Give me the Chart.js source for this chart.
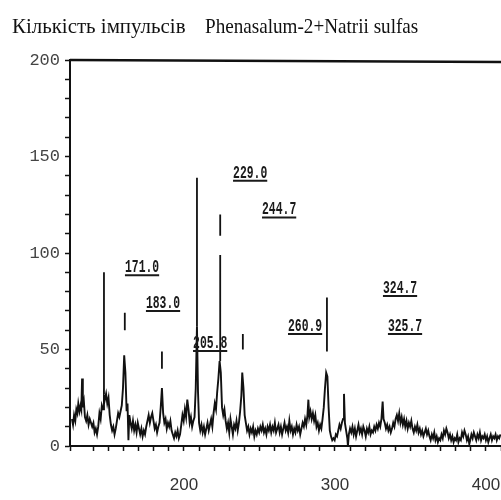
<!DOCTYPE html>
<html>
<head>
<meta charset="utf-8">
<script src="https://cdn.jsdelivr.net/npm/chart.js@4"></script>
<style>
  html, body { margin: 0; padding: 0; background: #fff; }
  #wrap { width: 501px; height: 500px; }
</style>
</head>
<body>
<div id="wrap"><canvas id="xrd"></canvas></div>
<script>
// diffractogram trace
const angle = [
  125.8, 126.5, 127.2, 128, 128.7, 129.4, 130, 130.8, 131.5, 132, 132.5, 133, 133.7, 134.4, 135.2, 136, 136.8, 137.6, 138.4, 139.2,
  140, 140.8, 141.6, 142.4, 143.2, 144, 144.8, 145.6, 146.4, 147, 147.6, 148.4, 149.2, 150, 150.8, 151.6, 152.4, 153.2, 154, 154.8,
  155.6, 156.4, 157.2, 158, 158.8, 159.6, 160.4, 161.2, 162, 162.6, 163.2, 163.8, 164.6, 165.4, 166.2, 167, 167.8, 168.6, 169.4, 170.2,
  171, 171.8, 172.6, 173.4, 174.2, 175, 175.8, 176.6, 177.4, 178.2, 179, 179.8, 180.6, 181.4, 182.2, 183, 183.8, 184.6, 185.4, 186.2,
  187, 187.8, 188.6, 189.4, 190.2, 191, 191.8, 192.6, 193.4, 194.2, 195, 195.8, 196.6, 197.4, 198.2, 199, 199.8, 200.6, 201.4, 202.2,
  203, 203.8, 204.6, 205.4, 206.2, 207, 207.8, 208.6, 209.3, 210, 210.8, 211.6, 212.4, 213.2, 214, 214.8, 215.6, 216.4, 217.2, 218,
  218.8, 219.6, 220.4, 221.2, 222, 222.8, 223.6, 224.4, 225.2, 226, 226.8, 227.6, 228.4, 229.2, 230, 230.8, 231.6, 232.4, 233.2, 234,
  234.8, 235.6, 236.4, 237.2, 238, 238.6, 239.4, 240.2, 241, 241.8, 242.6, 243.4, 244.2, 245, 245.8, 246.6, 247.4, 248.2, 249, 249.8,
  250.6, 251.4, 252.2, 253, 253.8, 254.6, 255.4, 256.2, 257, 257.8, 258.6, 259.4, 260.2, 261, 261.8, 262.6, 263.4, 264.2, 265, 265.8,
  266.6, 267.4, 268.2, 269, 269.8, 270.6, 271.4, 272.2, 273, 273.8, 274.6, 275.4, 276.2, 277, 277.8, 278.6, 279.4, 280.2, 281, 281.8,
  282.4, 283, 283.8, 284.6, 285.4, 286.2, 287, 287.8, 288.6, 289.4, 290.2, 291, 291.8, 292.6, 293.4, 294.2, 295, 295.8, 296.6, 297.4,
  298.2, 299, 299.8, 300.6, 301.4, 302.2, 303, 303.8, 304.6, 305.4, 306, 306.6, 307.4, 308.2, 308.6, 309.2, 310, 310.8, 311.6, 312.4,
  313.2, 314, 314.8, 315.6, 316.4, 317.2, 318, 318.8, 319.6, 320.4, 321.2, 322, 322.8, 323.6, 324.4, 325.2, 326, 326.8, 327.6, 328.4,
  329.2, 330, 330.8, 331.6, 332.2, 333, 333.8, 334.6, 335.4, 336.2, 337, 337.8, 338.6, 339.4, 340.2, 341, 341.8, 342.6, 343.4, 344.2,
  345, 345.8, 346.6, 347.4, 348.2, 349, 349.8, 350.6, 351.4, 352.2, 353, 353.8, 354.6, 355.4, 356.2, 357, 357.8, 358.6, 359.4, 360.2,
  361, 361.8, 362.6, 363.4, 364.2, 365, 365.8, 366.6, 367.4, 368.2, 369, 369.8, 370.6, 371.4, 372.2, 373, 373.8, 374.6, 375.4, 376.2,
  377, 377.8, 378.6, 379.4, 380.2, 381, 381.8, 382.6, 383.4, 384.2, 385, 385.8, 386.6, 387.4, 388.2, 389, 389.6, 390.4, 391.2, 392,
  392.8, 393.6, 394.4, 395.2, 396, 396.8, 397.6, 398.4, 399.2, 400, 400.8, 401.6, 402.4, 403.2, 404, 404.8, 405.6, 406.4, 407.2, 408,
  408.8, 409.6
];
const counts = [
  14, 11, 16, 13, 19, 17, 22, 18, 21, 19, 35, 20, 23, 15, 13, 16, 11, 14, 12, 10,
  12, 7, 9, 6, 10, 17, 14, 21, 19, 26, 24, 27, 22, 25, 16, 11, 8, 10, 6, 9,
  13, 17, 15, 18, 21, 30, 47, 38, 18, 22, 3, 16, 12, 9, 13, 8, 11, 7, 12, 9,
  6, 9, 5, 8, 6, 10, 13, 16, 12, 15, 17, 13, 9, 11, 7, 10, 12, 20, 30, 17,
  12, 14, 9, 12, 10, 13, 8, 6, 4, 7, 5, 8, 4, 6, 11, 16, 13, 19, 15, 24,
  19, 12, 15, 10, 13, 15, 30, 62, 28, 12, 8, 11, 7, 10, 6, 9, 12, 8, 11, 14,
  10, 17, 22, 19, 28, 35, 44, 38, 20, 16, 19, 13, 9, 12, 7, 14, 10, 6, 11, 9,
  13, 8, 12, 18, 26, 38, 30, 16, 12, 8, 10, 6, 9, 7, 10, 5, 8, 6, 9, 7,
  10, 8, 11, 7, 9, 6, 10, 8, 11, 7, 10, 8, 12, 7, 9, 11, 7, 10, 6, 9,
  12, 8, 10, 7, 13, 8, 10, 6, 9, 7, 11, 8, 10, 6, 9, 12, 10, 14, 11, 16,
  24, 15, 18, 14, 17, 13, 16, 10, 12, 8, 11, 9, 14, 20, 30, 38, 36, 20, 8, 5,
  3, 4, 3, 6, 5, 8, 11, 9, 12, 14, 27, 12, 8, 4, 0, 6, 9, 7, 10, 6,
  9, 5, 8, 11, 7, 9, 6, 10, 8, 5, 9, 7, 10, 6, 8, 7, 10, 8, 11, 9,
  12, 10, 14, 23, 14, 12, 9, 11, 8, 10, 7, 9, 12, 10, 14, 16, 13, 17, 12, 15,
  11, 14, 10, 13, 9, 12, 10, 13, 9, 7, 10, 8, 11, 7, 9, 6, 8, 5, 7, 9,
  6, 8, 5, 3, 6, 4, 7, 3, 5, 2, 4, 3, 6, 4, 8, 6, 9, 7, 4, 6,
  3, 5, 2, 4, 3, 6, 2, 4, 3, 7, 5, 8, 6, 3, 5, 1, 3, 6, 4, 7,
  5, 3, 6, 4, 7, 3, 5, 4, 6, 3, 5, 2, 4, 6, 3, 5, 4, 6, 3, 5,
  4, 6
];

// peak marker sticks: position, lower end, upper end
const stickAt   = [147, 160.8, 185.4, 208.6, 224, 224, 239, 294.7];
const stickLow  = [27, 60, 40, 62, 44, 109, 50, 49];
const stickHigh = [90, 69, 49, 139, 99, 120, 58, 77];

// peak captions
const peakLabels = ['171.0', '183.0', '205.8', '229.0', '244.7', '260.9', '324.7', '325.7'];
const labelAt    = [160.9, 174.8, 206, 232.5, 251.7, 268.9, 331.8, 335.1];
const labelLevel = [90, 71.5, 50.8, 139, 120, 59.6, 79.3, 59.6];

const xTicks = [200, 300, 400];
const yTicks = [0, 50, 100, 150, 200];

const headLeft  = 'Кількість імпульсів';
const headRight = 'Phenasalum-2+Natrii sulfas';

const trace = angle.map((a, i) => ({ x: a, y: counts[i] }));
const sticks = [];
stickAt.forEach((a, i) => {
  sticks.push({ x: a, y: stickLow[i] }, { x: a, y: stickHigh[i] }, { x: a, y: null });
});

function squeezedText(ctx, text, x, y, sx) {
  ctx.save();
  ctx.translate(x, y);
  ctx.scale(sx, 1);
  ctx.fillText(text, 0, 0);
  ctx.restore();
}

const headerPlugin = {
  id: 'header',
  afterDraw(chart) {
    const ctx = chart.ctx;
    ctx.save();
    ctx.fillStyle = '#111';
    ctx.font = '22px "Liberation Serif"';
    ctx.textBaseline = 'alphabetic';
    squeezedText(ctx, headLeft, 12, 33, 0.95);
    squeezedText(ctx, headRight, 205, 33, 0.87);
    // top frame line
    const a = chart.chartArea;
    ctx.strokeStyle = '#111';
    ctx.lineWidth = 2.5;
    ctx.beginPath();
    ctx.moveTo(a.left, a.top);
    ctx.lineTo(a.right, a.top + 2);
    ctx.stroke();
    ctx.restore();
  }
};

const peakTextPlugin = {
  id: 'peakText',
  afterDatasetsDraw(chart) {
    const { ctx, scales: { x, y } } = chart;
    ctx.save();
    ctx.fillStyle = '#1a1a1a';
    ctx.strokeStyle = '#1a1a1a';
    ctx.font = 'bold 19px "Liberation Mono"';
    ctx.textBaseline = 'alphabetic';
    peakLabels.forEach((t, i) => {
      const px = x.getPixelForValue(labelAt[i]);
      const py = y.getPixelForValue(labelLevel[i]);
      const w = ctx.measureText(t).width * 0.6;
      squeezedText(ctx, t, px, py, 0.6);
      ctx.lineWidth = 2;
      ctx.beginPath();
      ctx.moveTo(px, py + 3);
      ctx.lineTo(px + w, py + 3);
      ctx.stroke();
    });
    ctx.restore();
  }
};

new Chart(document.getElementById('xrd'), {
  type: 'line',
  data: {
    datasets: [
      {
        data: trace,
        borderColor: '#111',
        borderWidth: 1.9,
        pointRadius: 0,
        tension: 0
      },
      {
        data: sticks,
        borderColor: '#111',
        borderWidth: 1.8,
        pointRadius: 0,
        spanGaps: false
      }
    ]
  },
  options: {
    responsive: true,
    maintainAspectRatio: false,
    animation: false,
    layout: { padding: { top: 60, left: 0, right: 0, bottom: 0 } },
    plugins: {
      legend: { display: false },
      tooltip: { enabled: false }
    },
    scales: {
      x: {
        type: 'linear',
        min: 124.5,
        max: 410,
        border: { color: '#111', width: 2 },
        grid: { drawOnChartArea: false, tickLength: 5, tickColor: '#111', tickWidth: 1.5 },
        ticks: {
          stepSize: 10,
          autoSkip: false,
          maxRotation: 0,
          padding: 24,
          color: '#333',
          font: { family: '"Liberation Sans Narrow", "Liberation Sans"', size: 17 },
          callback: v => xTicks.includes(v) ? String(v) : ''
        },
        afterFit(s) {
          s.height = 54;
          s.paddingLeft = 0;
          s.paddingRight = 0;
        }
      },
      y: {
        min: 0,
        max: 200,
        border: { color: '#111', width: 2 },
        grid: { drawOnChartArea: false, tickLength: 5, tickColor: '#111', tickWidth: 1.5 },
        ticks: {
          stepSize: 10,
          autoSkip: false,
          padding: 5,
          color: '#444',
          font: { family: '"Liberation Mono"', size: 17 },
          callback: v => yTicks.includes(v) ? String(v) : ''
        },
        afterFit(s) {
          s.width = 70;
          s.paddingTop = 0;
          s.paddingBottom = 0;
        }
      }
    }
  },
  plugins: [headerPlugin, peakTextPlugin]
});
</script>
</body>
</html>
